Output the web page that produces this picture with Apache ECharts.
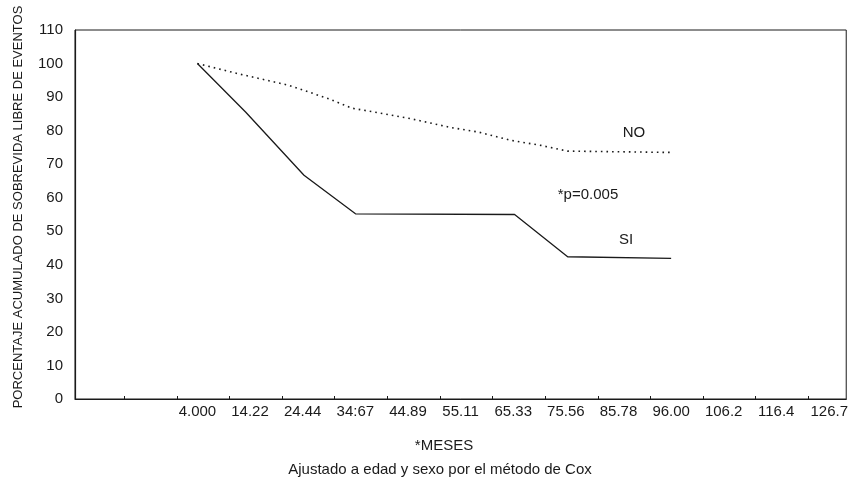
<!DOCTYPE html>
<html>
<head>
<meta charset="utf-8">
<script src="https://cdn.jsdelivr.net/npm/echarts@6/dist/echarts.min.js"></script>
<style>
html,body{margin:0;padding:0;background:#fff;}
#c{width:851px;height:487px;}
</style>
</head>
<body>
<div id="c"></div>
<script>
// ---- data ----
const xTickLabels = ['4.000','14.22','24.44','34:67','44.89','55.11','65.33','75.56','85.78','96.00','106.2','116.4','126.7'];
const xTickValues = [4, 14.22, 24.44, 34.67, 44.89, 55.11, 65.33, 75.56, 85.78, 96.00, 106.2, 116.4, 126.7];
const xMinorTicks = [-10.22, 0, 10.22, 20.44, 30.67, 40.89, 51.11, 61.33, 71.56, 81.78, 92.0, 102.2, 112.4, 122.7];
const seriesNames = ['NO', 'SI'];
const noData = [[4,100],[12.1,96.9],[21.8,93.5],[29.5,89.5],[34.0,86.7],[39.2,85.3],[45.6,83.5],[53.3,80.9],[58.5,79.6],[64.9,77.1],[70.7,75.6],[75.9,73.9],[96,73.5]];
const siData = [[4,100],[13.4,85.5],[24.7,66.7],[34.7,55.2],[65.6,55.0],[75.9,42.4],[96,41.9]];
const yAxisName = 'PORCENTAJE ACUMULADO DE SOBREVIDA LIBRE DE EVENTOS';
const xAxisName = '*MESES';
const subtitle = 'Ajustado a edad y sexo por el método de Cox';
const pText = '*p=0.005';

const chart = echarts.init(document.getElementById('c'));
const font = 'Liberation Sans, Arial, sans-serif';
const ink = '#1a1a1a';

chart.setOption({
  backgroundColor: '#fff',
  animation: false,
  grid: { left: 75, right: 1, top: 30, bottom: 88, show: true, borderColor: ink, borderWidth: 1, containLabel: false },
  xAxis: {
    type: 'value',
    min: -19.77, max: 130,
    axisLine: { show: true, onZero: false, lineStyle: { color: ink, width: 1.2 } },
    splitLine: { show: false },
    axisTick: { show: true, inside: true, length: 3, customValues: xMinorTicks, lineStyle: { color: ink } },
    axisLabel: {
      customValues: xTickValues,
      margin: 5,
      color: ink, fontSize: 15, fontFamily: font,
      formatter: function (v) {
        const i = xTickValues.findIndex(t => Math.abs(t - v) < 1e-6);
        return i >= 0 ? xTickLabels[i] : '';
      }
    }
  },
  yAxis: {
    type: 'value',
    min: 0, max: 110, interval: 10,
    axisLine: { show: true, onZero: false, lineStyle: { color: ink, width: 1.2 } },
    splitLine: { show: false },
    axisTick: { show: false },
    axisLabel: { margin: 12, color: ink, fontSize: 15, fontFamily: font }
  },
  series: [
    {
      name: seriesNames[0], type: 'line', data: noData, symbol: 'none',
      lineStyle: { color: ink, width: 1.6, type: [1.6, 4] }
    },
    {
      name: seriesNames[1], type: 'line', data: siData, symbol: 'none',
      lineStyle: { color: ink, width: 1.3, type: 'solid' }
    }
  ],
  graphic: [
    { type: 'text', x: 18, y: 207, rotation: Math.PI / 2,
      style: { text: yAxisName, fill: ink, font: '13px ' + font, align: 'center', verticalAlign: 'middle' } },
    { type: 'text', x: 444, y: 446,
      style: { text: xAxisName, fill: ink, font: '15px ' + font, align: 'center', verticalAlign: 'middle' } },
    { type: 'text', x: 440, y: 470,
      style: { text: subtitle, fill: ink, font: '15px ' + font, align: 'center', verticalAlign: 'middle' } },
    { type: 'text', x: 634, y: 133,
      style: { text: seriesNames[0], fill: ink, font: '15px ' + font, align: 'center', verticalAlign: 'middle' } },
    { type: 'text', x: 626, y: 240,
      style: { text: seriesNames[1], fill: ink, font: '15px ' + font, align: 'center', verticalAlign: 'middle' } },
    { type: 'text', x: 588, y: 195,
      style: { text: pText, fill: ink, font: '15px ' + font, align: 'center', verticalAlign: 'middle' } }
  ]
});
</script>
</body>
</html>
